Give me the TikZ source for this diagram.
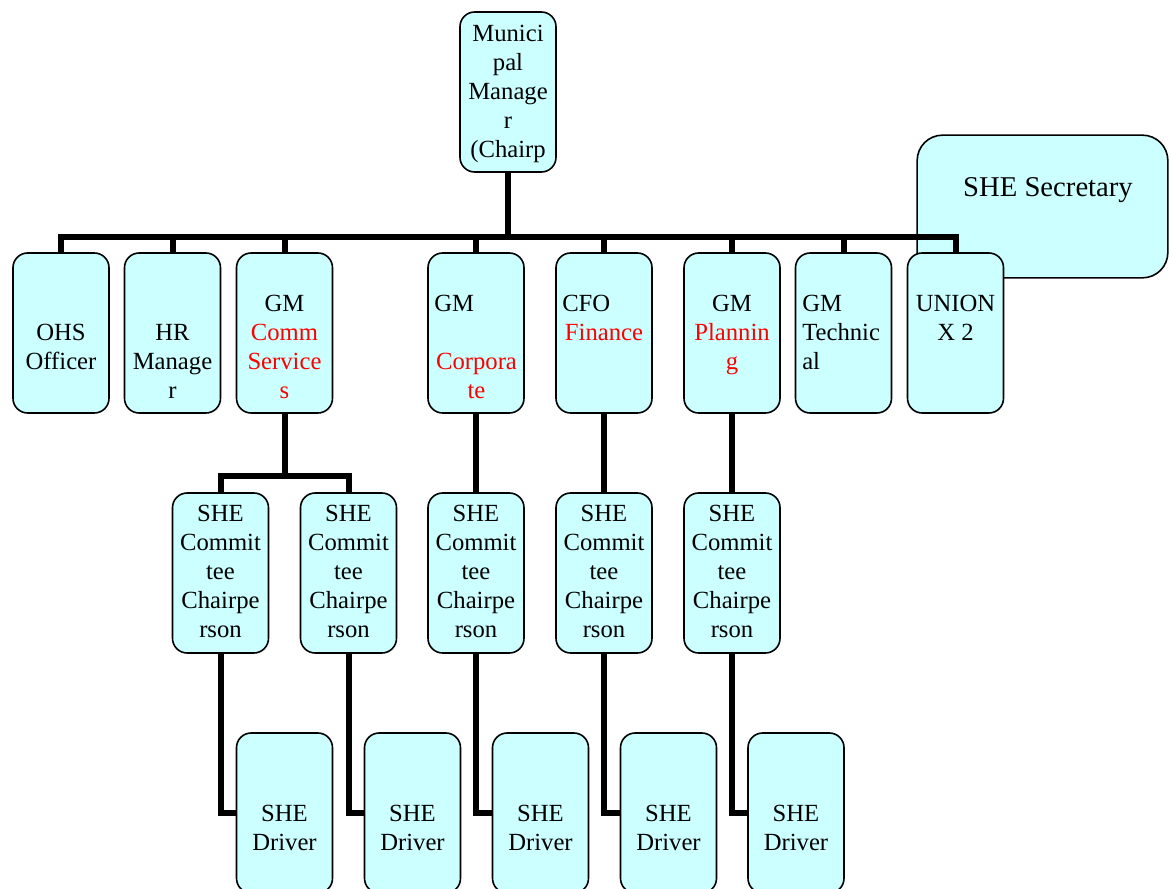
\documentclass[tikz,border=0pt]{standalone}
\usepackage{fontspec}
\setmainfont{Liberation Serif}
\definecolor{boxfill}{HTML}{CCFFFF}
\definecolor{redtxt}{HTML}{FF0000}
\newcommand{\rd}[1]{\textcolor{redtxt}{#1}}
\begin{document}
\begin{tikzpicture}[x=0.75pt,y=-0.75pt,
  box/.style={draw=black, line width=1.2pt, fill=boxfill, rounded corners=11pt,
    minimum width=72pt, minimum height=120pt, inner sep=0pt},
  secbox/.style={box, rounded corners=19pt, minimum width=188pt, minimum height=107pt},
  txt/.style={anchor=base, align=center, inner sep=0pt, font=\fontsize{18.5pt}{21.75pt}\selectfont},
  ltxt/.style={txt, anchor=base west, align=left},
  conn/.style={line width=4.5pt, line join=miter, line cap=butt}
]
\useasboundingbox (0,0) rectangle (1169,888);
\clip (0,0) rectangle (1169,888);

% secretary box (behind the bus line)
\node[secbox] (sec) at (1042.5,206.5) {};
\node[txt, font=\fontsize{21.5pt}{25pt}\selectfont] (sec-t) at (1048,196) {SHE Secretary};

% coordinates for junctions
\coordinate (bus) at (508,237);
\coordinate (split) at (284,476);

% node placeholders (invisible), boxes drawn after the connectors
\begin{scope}[every node/.style={box, draw=none, fill=none}]
\node (mm) at (508,92) {};
\node (ohs) at (61,333) {};
\node (hr) at (172.5,333) {};
\node (gmc) at (284.5,333) {};
\node (corp) at (476,333) {};
\node (cfo) at (604,333) {};
\node (plan) at (732,333) {};
\node (tech) at (843.5,333) {};
\node (union) at (955.5,333) {};
\node (c1) at (220.5,573) {};
\node (c2) at (348.5,573) {};
\node (c3) at (476,573) {};
\node (c4) at (604,573) {};
\node (c5) at (732,573) {};
\node (d1) at (284.5,813) {};
\node (d2) at (412.5,813) {};
\node (d3) at (540.5,813) {};
\node (d4) at (668.5,813) {};
\node (d5) at (796,813) {};
\end{scope}

\draw[conn] (mm.south) -- (mm.south |- bus);
\draw[conn] (ohs.north) -- (ohs.north |- bus) -- (union.north |- bus) -- (union.north);
\foreach \n in {hr,gmc,corp,cfo,plan,tech}
  \draw[conn] (\n.north) -- (\n.north |- bus);
\draw[conn] (gmc.south) -- (gmc.south |- split);
\draw[conn] (c1.north) -- (c1.north |- split) -- (c2.north |- split) -- (c2.north);
\draw[conn] (corp.south) -- (c3.north);
\draw[conn] (cfo.south) -- (c4.north);
\draw[conn] (plan.south) -- (c5.north);
\draw[conn] (c1.south) |- (d1.west);
\draw[conn] (c2.south) |- (d2.west);
\draw[conn] (c3.south) |- (d3.west);
\draw[conn] (c4.south) |- (d4.west);
\draw[conn] (c5.south) |- (d5.west);

% visible boxes
\foreach \n in {mm,ohs,hr,gmc,corp,cfo,plan,tech,union,c1,c2,c3,c4,c5,d1,d2,d3,d4,d5}
  \node[box] at (\n.center) {};

% texts (anchor base = baseline of the last line)
\node[txt] (mm-t) at (508,157) {Munici\\pal\\Manage\\r\\(Chairp};
\node[txt] (ohs-t) at (61,369) {OHS\\Officer};
\node[txt] (hr-t) at (172.5,398) {HR\\Manage\\r};
\node[txt] (gmc-t) at (284.5,398) {GM\\\rd{Comm}\\\rd{Service}\\\rd{s}};
\node[ltxt] (corp-t1) at (434,311) {GM};
\node[txt] (corp-t2) at (476.5,398) {\rd{Corpora}\\\rd{te}};
\node[ltxt] (cfo-t1) at (562,311) {CFO};
\node[txt] (cfo-t2) at (604,340) {\rd{Finance}};
\node[txt] (plan-t) at (732,369) {GM\\\rd{Plannin}\\\rd{g}};
\node[ltxt] (tech-t) at (802,369) {GM\\Technic\\al};
\node[txt] (union-t) at (955.5,340) {UNION\\X 2};
\foreach \n in {c1,c2,c3,c4,c5}
  \node[txt] (\n-t) at ([yshift=-108.75pt]\n.north) {SHE\\Commit\\tee\\Chairpe\\rson};
\foreach \n in {d1,d2,d3,d4,d5}
  \node[txt] (\n-t) at ([yshift=-88.5pt]\n.north) {SHE\\Driver};
\end{tikzpicture}
\end{document}
